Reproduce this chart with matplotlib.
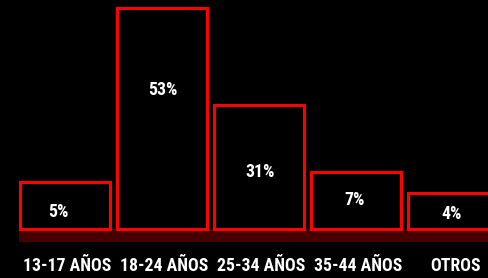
import matplotlib
matplotlib.use('Agg')
import matplotlib.pyplot as plt
from matplotlib import font_manager
from matplotlib.font_manager import FontProperties

# Chart data
categories = ['13-17 AÑOS', '18-24 AÑOS', '25-34 AÑOS', '35-44 AÑOS', 'OTROS']
pct_labels = ['5%', '53%', '31%', '7%', '4%']
bar_heights = [11.3, 53, 29.7, 13.7, 8.6]   # drawn heights as in the original graphic

# look for a narrow bold font file, the original uses a condensed display face
def find_narrow():
    prefs = ['robotocondensed-bold', 'opensanscondensed-bold', 'liberationsansnarrow-bold',
             'dejavusanscondensed-bold', 'notosanscondensed-bold', 'condensed-bold', 'narrow-bold']
    files = [f.fname for f in font_manager.fontManager.ttflist]
    low = {fn: fn.lower().replace(' ', '').replace('_', '') for fn in files}
    for p in prefs:
        for fn, l in low.items():
            if p in l.split('/')[-1] and 'italic' not in l and 'oblique' not in l:
                return fn
    return None

narrow = find_narrow()
if narrow:
    fp = FontProperties(fname=narrow)
    size = 12.8
else:
    fp = FontProperties(family='DejaVu Sans', weight='bold')
    size = 10.5

RED = '#ff0000'
BAND = '#470000'

fig = plt.figure(figsize=(4.89, 2.78), dpi=100, facecolor='black')
ax = fig.add_axes([0, 0, 1, 1], facecolor='black')

x = list(range(len(categories)))
ax.bar(x, bar_heights, width=0.925, color='black', edgecolor=RED, linewidth=2.2, zorder=3)

# dark red base band under the bars
ax.fill_between([-0.475, 4.5], -3.1, 0, color=BAND, zorder=2, linewidth=0)

# value labels inside the bars
label_y = [4.0, 33.3, 13.7, 6.9, 3.7]
label_dx = [-0.07, 0.01, 0.01, -0.02, -0.02]
for xi, txt, ly, dx in zip(x, pct_labels, label_y, label_dx):
    ax.text(xi + dx, ly, txt, color='white', fontproperties=fp, fontsize=size,
            ha='center', va='center', zorder=4)

# category labels
for xi, cat in zip(x, categories):
    ax.text(xi + 0.02, -8.8, cat, color='white', fontproperties=fp, fontsize=size,
            ha='center', va='center')

ax.set_xlim(-0.67, 4.37)
ax.set_ylim(-11.75, 54.9)
ax.axis('off')

fig.savefig('out.png', dpi=100, facecolor='black')
